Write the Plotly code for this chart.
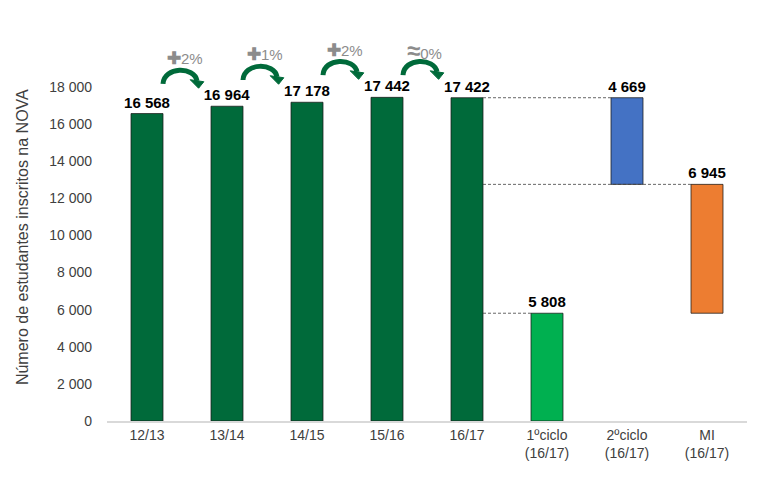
import plotly.graph_objects as go

categories = ["12/13", "13/14", "14/15", "15/16", "16/17", "1ºciclo<br>(16/17)", "2ºciclo<br>(16/17)", "MI<br>(16/17)"]
values = [16568, 16964, 17178, 17442, 17422, 5808, 4669, 6945]
growth_labels = ["2%", "1%", "2%", "0%"]
growth_symbols = ["✚", "✚", "✚", "≈"]
y_ticks = [0, 2000, 4000, 6000, 8000, 10000, 12000, 14000, 16000, 18000]

DARK = "#006A3A"
colors = [DARK, DARK, DARK, DARK, DARK, "#00B050", "#4472C4", "#ED7D31"]

# waterfall bases: 1º ciclo from 0, MI stacked on 1º ciclo, 2º ciclo on top of MI
base_1 = 0
base_mi = values[5]
base_2 = values[5] + values[7]
bases = [0, 0, 0, 0, 0, base_1, base_2, base_mi]

def fmt(v):
    return f"{v:,}".replace(",", " ")

xs = list(range(len(categories)))
FONT = "Liberation Sans, Arial, sans-serif"

fig = go.Figure()
fig.add_trace(go.Bar(
    x=xs, y=values, base=bases, width=0.4,
    marker=dict(color=colors, line=dict(color="#1a1a1a", width=0.75)),
    text=[f"<b>{fmt(v)}</b>" for v in values],
    textposition="outside", cliponaxis=False, constraintext="none",
    textfont=dict(family=FONT, size=15, color="black"),
    hoverinfo="skip",
))

shapes = []
# dashed connectors from 16/17 bar
for yv, xend in [(values[4], 6 - 0.2), (base_2, 7 - 0.2), (values[5], 5 - 0.2)]:
    shapes.append(dict(type="line", xref="x", yref="y", x0=4 + 0.2, x1=xend, y0=yv, y1=yv,
                       line=dict(color="#404040", width=0.8, dash="3px,2px"), layer="above"))

annotations = []
# curved growth arrows between consecutive years
for i in range(4):
    B = max(values[i], values[i + 1]) + 1200
    x0 = i + 0.2
    xe = i + 0.625
    ye = B + 170
    yc = B + 950
    path = f"M {x0},{B} C {x0+0.01},{yc} {xe-0.03},{yc} {xe},{ye}"
    shapes.append(dict(type="path", xref="x", yref="y", path=path,
                       line=dict(color=DARK, width=5), layer="above"))
    head = f"M {i+0.54},{B+230} L {i+0.71},{B+120} L {i+0.645},{B-230} Z"
    shapes.append(dict(type="path", xref="x", yref="y", path=head,
                       fillcolor=DARK, line=dict(color=DARK, width=1), layer="above"))
    sym_size = 17 if growth_symbols[i] == "✚" else 24
    annotations.append(dict(
        x=i + 0.47, y=B + 1350, xref="x", yref="y", showarrow=False,
        text=f"<span style='font-size:{sym_size}px'><b>{growth_symbols[i]}</b></span>{growth_labels[i]}",
        font=dict(family=FONT, size=15, color="#8C8C8C"),
    ))

annotations.append(dict(
    x=-0.133, y=0.47, xref="paper", yref="paper", showarrow=False, textangle=-90,
    xanchor="center", yanchor="middle",
    text="Número de estudantes inscritos na NOVA",
    font=dict(family=FONT, size=16, color="#404040"),
))

plot_h = 481 - 30 - 60
fig.update_layout(
    width=766, height=481,
    margin=dict(l=107, r=19, t=30, b=60),
    paper_bgcolor="white", plot_bgcolor="white",
    showlegend=False,
    shapes=shapes, annotations=annotations,
    font=dict(family=FONT, size=14, color="#404040"),
    xaxis=dict(
        tickmode="array", tickvals=xs, ticktext=categories,
        range=[-0.5, len(categories) - 0.5],
        showgrid=False, zeroline=False,
        showline=True, linecolor="#D9D9D9", linewidth=1.5,
        ticks="", tickfont=dict(family=FONT, size=14, color="#404040"),
    ),
    yaxis=dict(
        range=[0, 18000 * plot_h / 334],
        tickmode="array", tickvals=y_ticks, ticktext=[fmt(v) for v in y_ticks],
        showgrid=False, zeroline=False, showline=False, ticks="",
        ticklabelstandoff=14,
        tickfont=dict(family=FONT, size=14, color="#404040"),
    ),
)

fig.write_html("out.html")
